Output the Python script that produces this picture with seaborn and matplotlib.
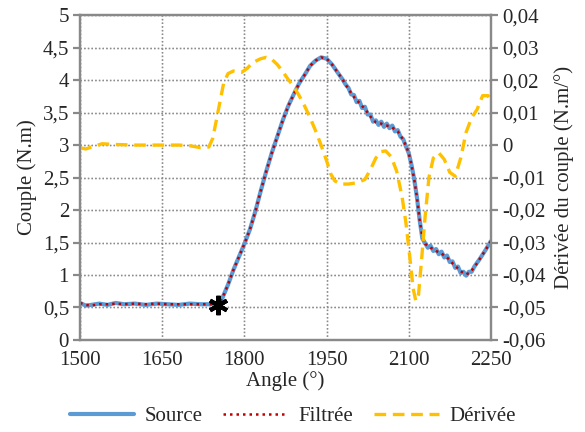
import numpy as np
import pandas as pd
import seaborn as sns
import matplotlib.pyplot as plt
from matplotlib.lines import Line2D

# Data
angle = [1500, 1510, 1520, 1535, 1550, 1565, 1580, 1600, 1620, 1640, 1660, 1680, 1700, 1720, 1740, 1752,
         1760, 1770, 1780, 1790, 1800, 1810, 1820, 1830, 1840, 1850, 1860, 1870, 1880, 1890, 1900, 1910,
         1920, 1930, 1940, 1950, 1960, 1970, 1980,
         1985, 1990, 1995, 2000, 2005, 2010, 2015, 2020, 2025, 2030, 2035, 2040, 2045, 2050, 2055, 2060,
         2065, 2070, 2075, 2080, 2085, 2090, 2095, 2100, 2105, 2110, 2115, 2120, 2125, 2130,
         2135, 2140, 2145, 2150, 2155, 2160, 2165, 2170, 2175, 2180, 2185, 2190, 2195, 2200, 2205, 2210,
         2215, 2220, 2230, 2240, 2250]

source = [0.57, 0.53, 0.54, 0.56, 0.54, 0.57, 0.55, 0.56, 0.54, 0.56, 0.55, 0.54, 0.56, 0.55, 0.55, 0.54,
          0.65, 0.85, 1.08, 1.28, 1.48, 1.70, 1.98, 2.30, 2.60, 2.88, 3.13, 3.38, 3.60, 3.78, 3.95, 4.08,
          4.22, 4.30, 4.35, 4.33, 4.24, 4.12, 4.00,
          3.93, 3.88, 3.78, 3.77, 3.66, 3.68, 3.57, 3.59, 3.47, 3.47, 3.36, 3.38, 3.31, 3.36, 3.28, 3.33,
          3.26, 3.30, 3.21, 3.23, 3.13, 3.09, 2.98, 2.88, 2.70, 2.48, 2.20, 1.85, 1.56, 1.49,
          1.42, 1.45, 1.37, 1.40, 1.32, 1.36, 1.27, 1.30, 1.20, 1.21, 1.11, 1.13, 1.03, 1.05, 0.99, 1.05,
          1.05, 1.13, 1.25, 1.38, 1.52]

filtree = [0.57, 0.54, 0.53, 0.55, 0.55, 0.56, 0.55, 0.56, 0.55, 0.56, 0.55, 0.55, 0.55, 0.55, 0.55, 0.54,
           0.65, 0.85, 1.08, 1.28, 1.48, 1.70, 1.98, 2.30, 2.60, 2.88, 3.13, 3.38, 3.60, 3.78, 3.95, 4.08,
           4.22, 4.30, 4.35, 4.33, 4.24, 4.12, 4.00,
           3.93, 3.86, 3.80, 3.74, 3.69, 3.65, 3.60, 3.56, 3.50, 3.44, 3.39, 3.35, 3.34, 3.33, 3.31, 3.30,
           3.29, 3.27, 3.24, 3.21, 3.15, 3.08, 2.99, 2.88, 2.70, 2.48, 2.20, 1.85, 1.58, 1.48,
           1.45, 1.42, 1.40, 1.37, 1.35, 1.33, 1.30, 1.27, 1.23, 1.18, 1.14, 1.10, 1.06, 1.03, 1.01, 1.03,
           1.07, 1.12, 1.25, 1.38, 1.52]

angle_deriv = [1500, 1510, 1525, 1540, 1560, 1600, 1650, 1680, 1700, 1720, 1735, 1742, 1748, 1755, 1762,
               1770, 1780, 1795, 1805, 1815, 1830, 1840, 1850, 1860, 1870, 1880, 1890, 1900, 1910, 1920,
               1930, 1940, 1950, 1958, 1965, 1975, 1990, 2005, 2020, 2030, 2040, 2050, 2058, 2068, 2078,
               2088, 2095, 2102, 2108, 2113, 2118, 2124, 2130, 2137, 2145, 2155, 2165, 2175, 2185, 2195,
               2205, 2215, 2225, 2235, 2245, 2250]
derivee = [-0.0008, -0.0012, -0.0004, 0.0004, 0.0002, 0.0, 0.0, 0.0, -0.0002, -0.0008, -0.0006, 0.002,
           0.007, 0.013, 0.019, 0.022, 0.0228, 0.0224, 0.0236, 0.0254, 0.0266, 0.027, 0.0264, 0.0248,
           0.0226, 0.0202, 0.018, 0.0152, 0.012, 0.0084, 0.0044, 0.0, -0.0048, -0.009, -0.011, -0.012,
           -0.012, -0.0116, -0.0106, -0.0076, -0.004, -0.002, -0.0018, -0.0036, -0.008, -0.016, -0.024,
           -0.0344, -0.044, -0.048, -0.046, -0.0344, -0.022, -0.010, -0.004, -0.0024, -0.0044, -0.0084,
           -0.0096, -0.004, 0.004, 0.0084, 0.011, 0.0152, 0.0152, 0.014]

star_angle = 1752
star_couple = 0.54

x_ticks = [1500, 1650, 1800, 1950, 2100, 2250]
y_ticks = [0, 0.5, 1, 1.5, 2, 2.5, 3, 3.5, 4, 4.5, 5]
y_labels = ['0', '0,5', '1', '1,5', '2', '2,5', '3', '3,5', '4', '4,5', '5']
y2_ticks = [-0.06, -0.05, -0.04, -0.03, -0.02, -0.01, 0, 0.01, 0.02, 0.03, 0.04]
y2_labels = ['-0,06', '-0,05', '-0,04', '-0,03', '-0,02', '-0,01', '0', '0,01', '0,02', '0,03', '0,04']

sns.set_style('white', {'axes.grid': True, 'grid.color': '#8c8c8c', 'grid.linestyle': ':'})
plt.rcParams['font.family'] = ['Liberation Serif', 'DejaVu Serif']
plt.rcParams['font.size'] = 15
plt.rcParams['grid.linewidth'] = 1.0

blue = '#5B9BD5'
red = '#C00000'
orange = '#FFC000'
spine_col = '#898989'
grid_col = '#8c8c8c'
dot_style = (0, (1, 1.6))
dash_style = (0, (3.5, 2))

fig = plt.figure(figsize=(5.85, 4.32), dpi=100)
ax = fig.add_axes([0.137, 0.213, 0.702, 0.752])
ax2 = ax.twinx()
ax2.grid(False)

df = pd.DataFrame({'angle': angle, 'source': source, 'filtree': filtree})
df_d = pd.DataFrame({'angle': angle_deriv, 'derivee': derivee})

sns.lineplot(data=df, x='angle', y='source', ax=ax, color=blue, linewidth=3.0, zorder=3)
sns.lineplot(data=df, x='angle', y='filtree', ax=ax, color=red, linewidth=1.8,
             linestyle=dot_style, zorder=4)
sns.lineplot(data=df_d, x='angle', y='derivee', ax=ax2, color=orange, linewidth=2.4,
             linestyle=dash_style, zorder=2)
ax.plot(star_angle, star_couple, marker=(6, 2, 0), markersize=14, markeredgewidth=3,
        color='black', zorder=6, clip_on=False)

ax.set_xlim(1500, 2250)
ax.set_ylim(0, 5)
ax2.set_ylim(-0.06, 0.04)
ax.set_xticks(x_ticks)
ax.set_yticks(y_ticks)
ax.set_yticklabels(y_labels)
ax2.set_yticks(y2_ticks)
ax2.set_yticklabels(y2_labels)

for a in (ax, ax2):
    for s in a.spines.values():
        s.set_color(spine_col)
        s.set_linewidth(1.6)
    a.tick_params(direction='out', length=5, width=1.6, color=spine_col, labelsize=15, pad=3)

ax.grid(True)
ax2.grid(False)
# dotted grid also laid down as plain lines at the tick positions, under the curves
ax.vlines(x_ticks, 0, 1, transform=ax.get_xaxis_transform(), colors=grid_col,
          linestyles=':', linewidth=1.0, zorder=1.5)
ax.hlines(y_ticks, 0, 1, transform=ax.get_yaxis_transform(), colors=grid_col,
          linestyles=':', linewidth=1.0, zorder=1.5)

ax.set_xlabel('Angle (°)', fontsize=15, labelpad=1)
ax.set_ylabel('Couple (N.m)', fontsize=15, labelpad=4)
ax2.set_ylabel('Dérivée du couple (N.m/°)', fontsize=15, labelpad=6)

handles = [Line2D([], [], color=blue, linewidth=3.0),
           Line2D([], [], color=red, linewidth=1.8, linestyle=dot_style),
           Line2D([], [], color=orange, linewidth=2.4, linestyle=dash_style)]
fig.legend(handles, ['Source', 'Filtrée', 'Dérivée'], loc='lower center', ncol=3, frameon=False,
           bbox_to_anchor=(0.5, -0.03), handlelength=3.1, columnspacing=1.0, handletextpad=0.5,
           fontsize=15)

fig.savefig('out.png', dpi=100)
